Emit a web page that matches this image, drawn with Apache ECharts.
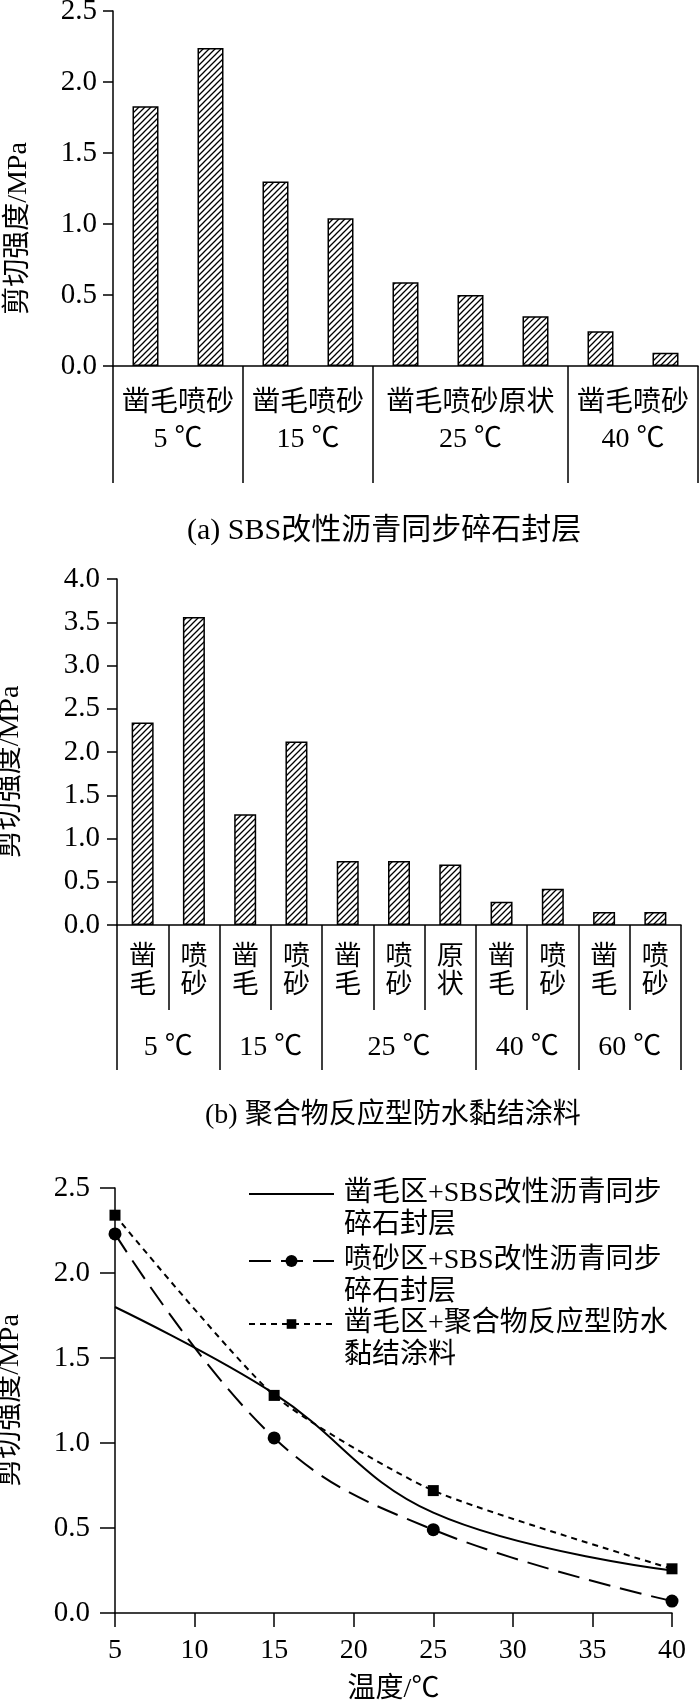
<!DOCTYPE html>
<html>
<head>
<meta charset="utf-8">
<script src="https://cdn.jsdelivr.net/npm/echarts@6/dist/echarts.min.js"></script>
<style>
  html, body { margin: 0; background: #fff; }
  #chart { width: 700px; height: 1704px; }
</style>
</head>
<body>
<div id="chart"></div>
<script>
const FONT = '"Liberation Serif", "Noto Sans CJK SC", serif';

// (a) SBS改性沥青同步碎石封层
const barsA = ['凿毛', '喷砂', '凿毛', '喷砂', '凿毛', '喷砂', '原状', '凿毛', '喷砂'];
const valuesA = [1.83, 2.24, 1.30, 1.04, 0.59, 0.50, 0.35, 0.245, 0.094];
const tempsA = ['5 ℃', '15 ℃', '25 ℃', '40 ℃'];
const groupSizeA = [2, 2, 3, 2];

// (b) 聚合物反应型防水黏结涂料
const barsB = ['凿毛', '喷砂', '凿毛', '喷砂', '凿毛', '喷砂', '原状', '凿毛', '喷砂', '凿毛', '喷砂'];
const valuesB = [2.34, 3.56, 1.28, 2.12, 0.74, 0.74, 0.70, 0.27, 0.42, 0.15, 0.15];
const tempsB = ['5 ℃', '15 ℃', '25 ℃', '40 ℃', '60 ℃'];
const groupSizeB = [2, 2, 3, 2, 2];

// (c) 温度曲线
const tempX = [5, 15, 25, 40];
const zaomaoSBS = [1.80, 1.29, 0.59, 0.25];
const penshaSBS = [2.23, 1.03, 0.49, 0.07];
const zaomaoPoly = [2.34, 1.28, 0.72, 0.26];
const lineNames = [
  '凿毛区+SBS改性沥青同步\n碎石封层',
  '喷砂区+SBS改性沥青同步\n碎石封层',
  '凿毛区+聚合物反应型防水\n黏结涂料'
];

const captionA = '(a) SBS改性沥青同步碎石封层';
const captionB = '(b) 聚合物反应型防水黏结涂料';

function groupStarts(sizes) {
  const out = [];
  let k = 0;
  sizes.forEach(n => { out.push(k); k += n; });
  return out;
}
function groupCenters(sizes) {
  return groupStarts(sizes).map((s, i) => s + sizes[i] / 2);
}

// 斜线填充
function hatch() {
  const s = 6;
  const c = document.createElement('canvas');
  c.width = s; c.height = s;
  const ctx = c.getContext('2d');
  ctx.fillStyle = '#fff';
  ctx.fillRect(0, 0, s, s);
  ctx.strokeStyle = '#000';
  ctx.lineWidth = 1.3;
  ctx.beginPath();
  ctx.moveTo(0, s); ctx.lineTo(s, 0);
  ctx.moveTo(-1, 1); ctx.lineTo(1, -1);
  ctx.moveTo(s - 1, s + 1); ctx.lineTo(s + 1, s - 1);
  ctx.stroke();
  return c;
}

const black = { color: '#000', width: 1.5 };
const txt = { color: '#000', fontFamily: FONT, fontSize: 28 };

function yAxisOf(gridIndex, max, nameGap, shift, margin, tick) {
  return {
    type: 'value', gridIndex, min: 0, max, interval: 0.5,
    name: '剪切强度/MPa', nameLocation: 'middle', nameGap, nameMoveOverlap: false,
    nameTextStyle: { ...txt, padding: [0, shift, 0, 0] },
    axisLine: { show: true, onZero: false, lineStyle: black },
    axisTick: { show: true, inside: false, length: tick, lineStyle: black },
    axisLabel: { ...txt, fontSize: 29, margin, formatter: v => v.toFixed(1) },
    splitLine: { show: false }
  };
}

// 组标签（数值轴定位到组中心）
function groupLabelAxis(gridIndex, sizes, texts, margin, lineHeight) {
  const total = sizes.reduce((a, b) => a + b, 0);
  const centers = groupCenters(sizes);
  return {
    type: 'value', gridIndex, position: 'bottom', min: 0, max: total, interval: 0.5,
    axisLine: { show: false, onZero: false }, axisTick: { show: false }, splitLine: { show: false },
    axisLabel: {
      ...txt, margin, lineHeight, showMinLabel: true, showMaxLabel: true,
      formatter: v => {
        const i = centers.findIndex(c => Math.abs(c - v) < 1e-6);
        return i < 0 ? '' : texts[i];
      }
    }
  };
}

const startsA = groupStarts(groupSizeA);
const startsB = groupStarts(groupSizeB);
const labelsA = startsA.map((s, i) => barsA.slice(s, s + groupSizeA[i]).join('') + '\n' + tempsA[i]);

const pattern = { image: hatch(), repeat: 'repeat' };

const option = {
  backgroundColor: '#fff',
  animation: false,
  textStyle: { fontFamily: FONT, color: '#000' },
  grid: [
    { left: 113, top: 11, width: 585, height: 355, outerBoundsMode: 'none', containLabel: false },
    { left: 117, top: 579, width: 564, height: 346, outerBoundsMode: 'none', containLabel: false },
    { left: 115, top: 1188, width: 557, height: 425, outerBoundsMode: 'none', containLabel: false }
  ],
  xAxis: [
    // 0: (a) 柱子类目轴，分组竖线
    {
      type: 'category', gridIndex: 0, position: 'bottom', data: barsA.map((b, i) => i + b),
      axisLine: { show: true, onZero: false, lineStyle: black },
      axisTick: { show: true, length: 117, lineStyle: black, interval: i => startsA.includes(i) },
      axisLabel: { show: false }
    },
    // 1: (a) 组标签
    groupLabelAxis(0, groupSizeA, labelsA, 20, 36),
    // 2: (b) 柱子类目轴，短竖线 + 竖排标签
    {
      type: 'category', gridIndex: 1, position: 'bottom', data: barsB.map((b, i) => i + b),
      axisLine: { show: true, onZero: false, lineStyle: black },
      axisTick: { show: true, length: 85, lineStyle: black, interval: 0 },
      axisLabel: { ...txt, fontSize: 27, lineHeight: 28, margin: 19, interval: 0,
        formatter: (v, i) => barsB[i].split('').join('\n') }
    },
    // 3: (b) 分组长竖线
    {
      type: 'category', gridIndex: 1, position: 'bottom', data: barsB.map((b, i) => i + b),
      axisLine: { show: false, onZero: false },
      axisTick: { show: true, length: 145, lineStyle: black, interval: i => startsB.includes(i) },
      axisLabel: { show: false }
    },
    // 4: (b) 温度标签
    groupLabelAxis(1, groupSizeB, tempsB, 109, 28),
    // 5: (c) 温度
    {
      type: 'value', gridIndex: 2, position: 'bottom', min: 5, max: 40, interval: 5,
      name: '温度/℃', nameLocation: 'middle', nameGap: 63, nameMoveOverlap: false, nameTextStyle: txt,
      axisLine: { show: true, onZero: false, lineStyle: black },
      axisTick: { show: true, length: 14, lineStyle: black },
      axisLabel: { ...txt, margin: 24 },
      splitLine: { show: false }
    }
  ],
  yAxis: [
    yAxisOf(0, 2.5, 80, 80, 16, 10),
    yAxisOf(1, 4.0, 92, 40, 17, 10),
    yAxisOf(2, 2.5, 90, 0, 25, 15)
  ],
  // 图例：每项单独一个，首行与图标对齐（前面加一个空行）
  legend: [0, 1, 2].map(i => ({
    data: [lineNames[i]],
    left: 243, top: [1141, 1208, 1271][i],
    orient: 'vertical', selectedMode: false,
    itemWidth: 85, itemHeight: [14, 15, 12][i],
    itemStyle: i === 0 ? { opacity: 0 } : {},
    formatter: name => ' \n' + name,
    textStyle: { ...txt, lineHeight: 32, padding: [0, 0, 0, 5] }
  })),
  graphic: [
    { type: 'text', left: 187, top: 516, style: { text: captionA, font: '30px ' + FONT, fill: '#000' } },
    { type: 'text', left: 205, top: 1102, style: { text: captionB, font: '28px ' + FONT, fill: '#000' } }
  ],
  series: [
    {
      type: 'bar', xAxisIndex: 0, yAxisIndex: 0, data: valuesA, barWidth: 26,
      itemStyle: { color: pattern, borderColor: '#000', borderWidth: 1.5 }, silent: true
    },
    {
      type: 'bar', xAxisIndex: 2, yAxisIndex: 1, data: valuesB, barWidth: 22,
      itemStyle: { color: pattern, borderColor: '#000', borderWidth: 1.5 }, silent: true
    },
    {
      name: lineNames[0], type: 'line', xAxisIndex: 5, yAxisIndex: 2,
      data: tempX.map((t, i) => [t, zaomaoSBS[i]]), smooth: 0.4, symbol: 'none',
      lineStyle: { color: '#000', width: 2, type: 'solid' }, itemStyle: { color: '#000' }
    },
    {
      name: lineNames[1], type: 'line', xAxisIndex: 5, yAxisIndex: 2,
      data: tempX.map((t, i) => [t, penshaSBS[i]]), smooth: 0.4, symbol: 'circle', symbolSize: 13,
      lineStyle: { color: '#000', width: 2, type: [22, 10] }, itemStyle: { color: '#000' }
    },
    {
      name: lineNames[2], type: 'line', xAxisIndex: 5, yAxisIndex: 2,
      data: tempX.map((t, i) => [t, zaomaoPoly[i]]), smooth: 0.2, symbol: 'rect', symbolSize: 11,
      lineStyle: { color: '#000', width: 2, type: [6, 5] }, itemStyle: { color: '#000' }
    }
  ]
};

const chart = echarts.init(document.getElementById('chart'), null, { renderer: 'canvas' });
chart.setOption(option);
</script>
</body>
</html>
